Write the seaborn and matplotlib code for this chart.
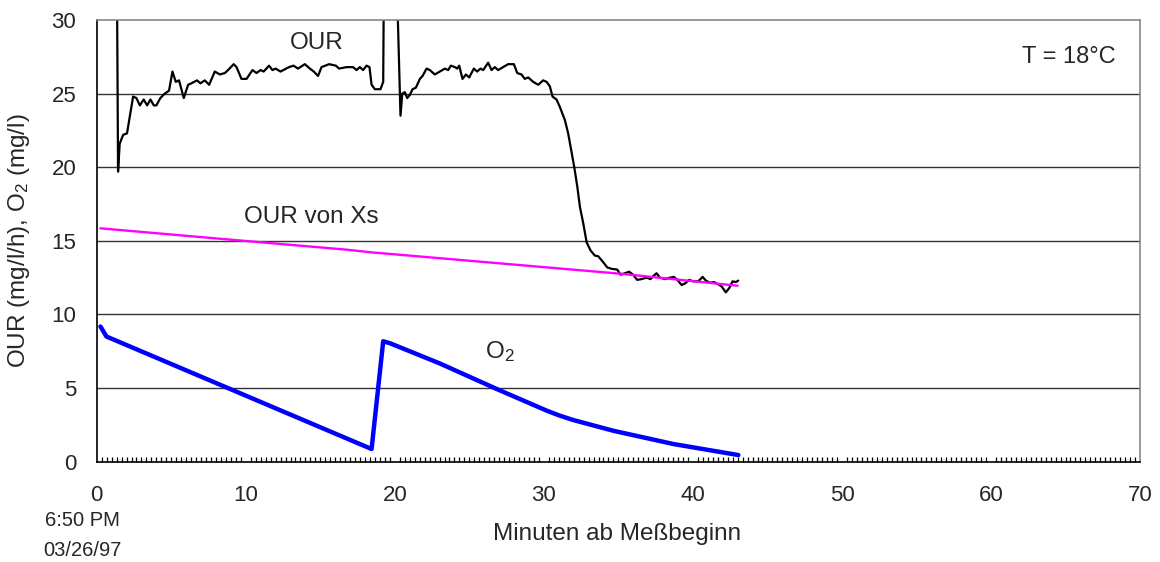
import numpy as np
import pandas as pd
import matplotlib
matplotlib.use("Agg")
import matplotlib.pyplot as plt
from matplotlib.ticker import MultipleLocator
import seaborn as sns

# ---- data ----
our_x = [1.36, 1.43, 1.54, 1.77, 2.03, 2.21, 2.44, 2.66, 2.89, 3.15, 3.38, 3.6, 3.83, 4.0,
         4.27, 4.56, 4.85, 5.08, 5.3, 5.52, 5.84, 6.13, 6.35, 6.73, 6.96, 7.25, 7.54, 7.92,
         8.26, 8.6, 8.81, 9.19, 9.38, 9.71, 10.05, 10.45, 10.72, 10.99, 11.2, 11.56, 11.79,
         12.0, 12.33, 12.9, 13.2, 13.5, 13.96, 14.3, 14.56, 14.85, 15.08, 15.59, 16.04, 16.26,
         16.76, 17.2, 17.43, 17.65, 17.87, 18.1, 18.3, 18.44, 18.66, 19.04, 19.22, 19.26,
         20.15, 20.38, 20.5, 20.67, 20.83, 21.0, 21.19, 21.41, 21.68, 21.86, 22.13, 22.35,
         22.68, 23.02, 23.36, 23.58, 23.76, 24.03, 24.18, 24.32, 24.54, 24.77, 24.99, 25.3,
         25.52, 25.75, 25.93, 26.26, 26.49, 26.71, 26.93, 27.27, 27.6, 27.99, 28.21, 28.5,
         28.72, 28.95, 29.28, 29.62, 29.95, 30.18, 30.4, 30.58, 30.85, 31.07, 31.41, 31.63,
         31.79, 32.04, 32.24, 32.42, 32.64, 32.87, 33.13, 33.42, 33.65, 33.94, 34.25, 34.54,
         34.92, 35.15, 35.44, 35.72, 35.99, 36.26, 36.55, 36.89, 37.16, 37.33, 37.56, 37.79,
         38.12, 38.46, 38.72, 39.0, 39.24, 39.46, 39.75, 40.02, 40.36, 40.65, 40.87, 41.14,
         41.41, 41.7, 41.93, 42.21, 42.44, 42.66, 42.89, 43.04]
our_y = [32.0, 19.7, 21.6, 22.2, 22.3, 23.4, 24.8, 24.7, 24.2, 24.6, 24.2, 24.6, 24.2, 24.2,
         24.7, 25.0, 25.2, 26.5, 25.8, 25.9, 24.7, 25.6, 25.7, 25.9, 25.7, 25.9, 25.6, 26.5,
         26.3, 26.4, 26.6, 27.0, 26.8, 26.0, 26.0, 26.6, 26.4, 26.6, 26.5, 26.9, 26.6,
         26.7, 26.5, 26.8, 26.9, 26.7, 27.0, 26.7, 26.5, 26.2, 26.8, 27.0, 26.9, 26.7,
         26.8, 26.8, 26.6, 26.8, 26.6, 26.9, 26.8, 25.6, 25.3, 25.3, 25.8, 32.0,
         32.0, 23.5, 25.0, 25.1, 24.7, 24.9, 25.3, 25.4, 26.0, 26.2, 26.7, 26.6,
         26.3, 26.5, 26.7, 26.6, 26.9, 26.8, 26.7, 26.9, 26.0, 26.3, 26.1, 26.7,
         26.5, 26.7, 26.6, 27.1, 26.6, 26.8, 26.6, 26.8, 27.0, 27.0, 26.4, 26.3,
         26.0, 26.1, 25.8, 25.6, 25.9, 25.8, 25.5, 24.8, 24.6, 24.1, 23.2, 22.3,
         21.4, 20.0, 18.7, 17.3, 16.2, 14.9, 14.35, 14.0, 13.95, 13.6, 13.2, 13.1,
         13.05, 12.7, 12.8, 12.9, 12.7, 12.35, 12.4, 12.5, 12.4, 12.6, 12.8, 12.5,
         12.4, 12.5, 12.55, 12.3, 12.0, 12.1, 12.35, 12.25, 12.25, 12.55, 12.3, 12.15,
         12.2, 12.05, 11.9, 11.5, 11.8, 12.25, 12.2, 12.3]

xs_x = [0.25, 6.93, 16.76, 18.6, 19.0, 35.1, 43.0]
xs_y = [15.85, 15.26, 14.4, 14.2, 14.17, 12.77, 11.95]

o2_x = [0.25, 0.65, 1.54, 18.44, 19.22, 19.66, 23.0, 26.83, 30.18, 31.0, 31.97, 34.66, 38.69, 43.05]
o2_y = [9.18, 8.5, 8.12, 0.86, 8.18, 8.05, 6.68, 4.94, 3.47, 3.15, 2.83, 2.1, 1.2, 0.45]

x_ticks = [0, 10, 20, 30, 40, 50, 60, 70]
y_ticks = [0, 5, 10, 15, 20, 25, 30]

# ---- style ----
sns.set_style("white")
plt.rcParams['font.family'] = ['Liberation Sans', 'DejaVu Sans']
plt.rcParams['mathtext.default'] = 'regular'

fig = plt.figure(figsize=(11.6, 5.62), dpi=100)
ax = fig.add_axes([0.0834, 0.1785, 0.8994, 0.7859])

for y in y_ticks[1:-1]:
    ax.axhline(y, color='#333333', lw=1.0, zorder=0)

sns.lineplot(x=our_x, y=our_y, ax=ax, color='black', lw=1.6, estimator=None, sort=False)
sns.lineplot(x=xs_x, y=xs_y, ax=ax, color='#ff00ff', lw=1.7, estimator=None, sort=False)
sns.lineplot(x=o2_x, y=o2_y, ax=ax, color='#0000ff', lw=3.2, estimator=None, sort=False,
             solid_capstyle='round', solid_joinstyle='round')

ax.set_xlim(0, 70)
ax.set_ylim(0, 30)
ax.set_xticks(x_ticks)
ax.set_yticks(y_ticks)
ax.xaxis.set_minor_locator(MultipleLocator(1/3))
ax.tick_params(axis='x', which='major', direction='inout', length=11, width=1,
               labelsize=16, pad=11.5, color='black')
ax.tick_params(axis='x', which='minor', direction='in', length=3.8, width=0.9,
               color='black', bottom=True)
ax.tick_params(axis='y', which='major', direction='out', length=5.8, width=1,
               labelsize=16, pad=9, color='black')

for s in ['left', 'bottom']:
    ax.spines[s].set_color('black')
    ax.spines[s].set_linewidth(1.2)
for s in ['top', 'right']:
    ax.spines[s].set_visible(True)
    ax.spines[s].set_color('#888888')
    ax.spines[s].set_linewidth(1.2)

ax.set_xlabel('')
ax.set_ylabel('OUR (mg/l/h), O$_2$ (mg/l)', fontsize=17.5)
ax.yaxis.set_label_coords(-0.062, 0.5)

fig.text(617 / 1160, 1 - 534 / 562, 'Minuten ab Meßbeginn', fontsize=17.5,
         ha='center', va='center')
fig.text(82 / 1160, 1 - 520 / 562, '6:50 PM', fontsize=14.5, ha='center', va='center')
fig.text(82 / 1160, 1 - 550 / 562, '03/26/97', fontsize=14.5, ha='center', va='center')

ax.text(12.97, 28.02, 'OUR', fontsize=17.5, ha='left', va='baseline')
ax.text(9.89, 16.24, 'OUR von Xs', fontsize=17.5, ha='left', va='baseline')
ax.text(26.06, 7.05, 'O$_2$', fontsize=17.5, ha='left', va='baseline')
ax.text(62.08, 27.07, 'T = 18°C', fontsize=17, ha='left', va='baseline')

fig.savefig('out.png', dpi=100)
